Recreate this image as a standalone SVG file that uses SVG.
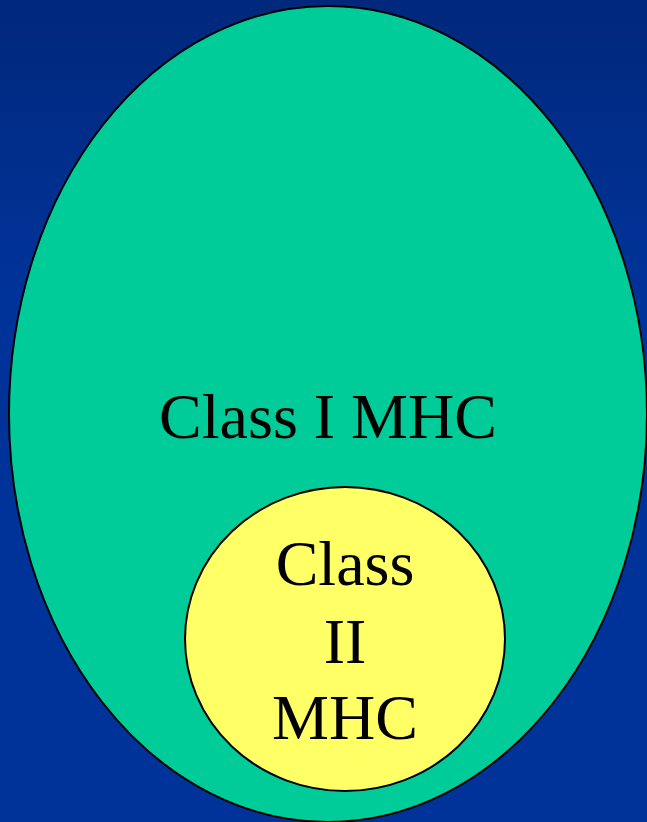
<svg xmlns="http://www.w3.org/2000/svg" width="647" height="822" viewBox="0 0 647 822">
<defs>
<linearGradient id="bg" x1="0" y1="0" x2="0" y2="1">
<stop offset="0" stop-color="#00287c"/>
<stop offset="0.35" stop-color="#003399"/>
<stop offset="1" stop-color="#003399"/>
</linearGradient>
</defs>
<style>
.lbl{font-family:"Liberation Serif","Times New Roman",serif;font-size:64px;fill:#000;text-anchor:middle}
.shape{stroke:#000;stroke-width:2}
</style>
<rect x="0" y="0" width="647" height="822" fill="url(#bg)"/>
<g id="class1">
<ellipse class="shape" cx="328" cy="414" rx="319" ry="408" fill="#00CC99"/>
<text class="lbl" x="328" y="438">Class I MHC</text>
</g>
<g id="class2">
<ellipse class="shape" cx="345" cy="639" rx="160" ry="152" fill="#FFFF66"/>
<text class="lbl" x="345" y="585">Class</text>
<text class="lbl" x="345" y="663">II</text>
<text class="lbl" x="345" y="739">MHC</text>
</g>
<g id="connectors"/>
</svg>
